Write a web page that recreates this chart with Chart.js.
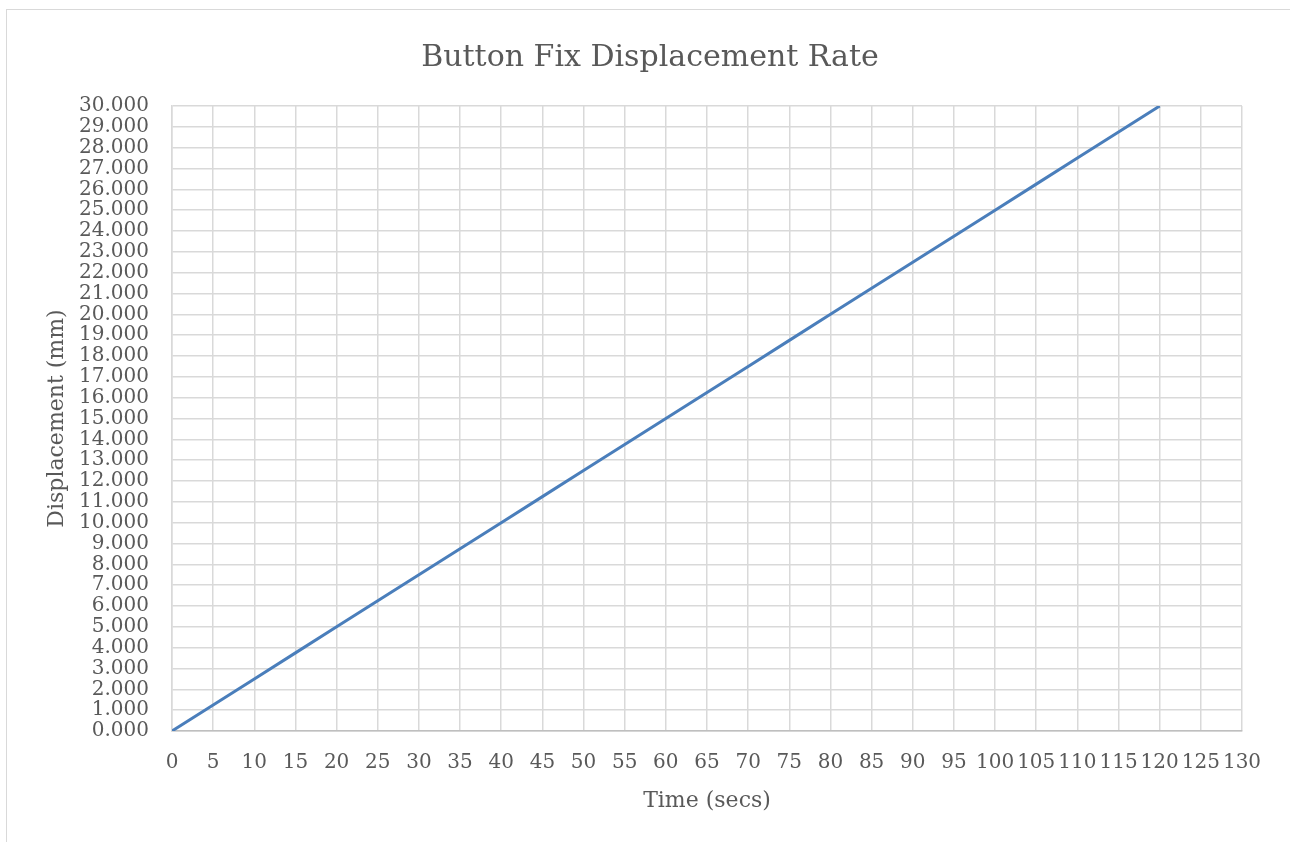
<!DOCTYPE html>
<html>
<head>
<meta charset="utf-8">
<title>Button Fix Displacement Rate</title>
<script src="https://cdn.jsdelivr.net/npm/chart.js@4/dist/chart.umd.min.js"></script>
<style>
  html, body { margin: 0; padding: 0; background: #ffffff; overflow: hidden; }
  #frame { position: absolute; left: 6px; top: 9px; width: 1310px; height: 860px; border: 1px solid #d9d9d9; }
  #displacementChart { position: absolute; left: 0; top: 0; }
</style>
</head>
<body>
<div id="frame"></div>
<canvas id="displacementChart" width="1290" height="842"></canvas>
<script>
const timeSecs = [0, 5, 10, 15, 20, 25, 30, 35, 40, 45, 50, 55, 60, 65, 70, 75, 80, 85, 90, 95, 100, 105, 110, 115, 120];
const displacementMm = [0.000, 1.250, 2.500, 3.750, 5.000, 6.250, 7.500, 8.750, 10.000, 11.250, 12.500, 13.750, 15.000, 16.250, 17.500, 18.750, 20.000, 21.250, 22.500, 23.750, 25.000, 26.250, 27.500, 28.750, 30.000];

// Axis tick settings
const xTickMin = 0, xTickMax = 130, xTickStep = 5;
const yTickMin = 0, yTickMax = 30, yTickStep = 1;

const textGrey = '#595959';
const gridGrey = '#d9d9d9';
const serifFont = "'DejaVu Serif', 'Liberation Serif', serif";

const points = timeSecs.map((t, i) => ({ x: t, y: displacementMm[i] }));

const ctx = document.getElementById('displacementChart').getContext('2d');
new Chart(ctx, {
    type: 'line',
    data: {
        datasets: [{
            label: 'Displacement',
            data: points,
            borderColor: '#4a7ebb',
            borderWidth: 3,
            pointRadius: 0,
            tension: 0,
            fill: false
        }]
    },
    options: {
        responsive: false,
        animation: false,
        devicePixelRatio: 1,
        // left padding keeps the title centred on the outer frame
        layout: { padding: { left: 58, right: 48, top: 0, bottom: 0 } },
        plugins: {
            legend: { display: false },
            tooltip: { enabled: false },
            title: {
                display: true,
                text: 'Button Fix Displacement Rate',
                color: textGrey,
                font: { family: serifFont, size: 30, weight: 'normal' },
                padding: { top: 40, bottom: 30 }
            }
        },
        scales: {
            x: {
                type: 'linear',
                min: xTickMin,
                max: xTickMax,
                afterFit: (scale) => { scale.height = 111; },
                ticks: {
                    stepSize: xTickStep,
                    autoSkip: false,
                    maxRotation: 0,
                    color: textGrey,
                    padding: 20,
                    font: { family: serifFont, size: 20 }
                },
                grid: { color: gridGrey, lineWidth: 1.5, drawTicks: false },
                border: { color: '#bfbfbf', width: 1.5 },
                title: {
                    display: true,
                    text: 'Time (secs)',
                    color: textGrey,
                    font: { family: serifFont, size: 22 },
                    padding: { top: 0, bottom: 28 }
                }
            },
            y: {
                min: yTickMin,
                max: yTickMax,
                afterFit: (scale) => { scale.width = 114; },
                ticks: {
                    stepSize: yTickStep,
                    autoSkip: false,
                    color: textGrey,
                    padding: 23,
                    font: { family: serifFont, size: 20 },
                    callback: (v) => Number(v).toFixed(3)
                },
                grid: { color: gridGrey, lineWidth: 1.5, drawTicks: false },
                border: { color: gridGrey, width: 1.5 },
                title: {
                    display: true,
                    text: 'Displacement (mm)',
                    color: textGrey,
                    font: { family: serifFont, size: 22 },
                    padding: { top: -14, bottom: 0 }
                }
            }
        }
    }
});
</script>
</body>
</html>
